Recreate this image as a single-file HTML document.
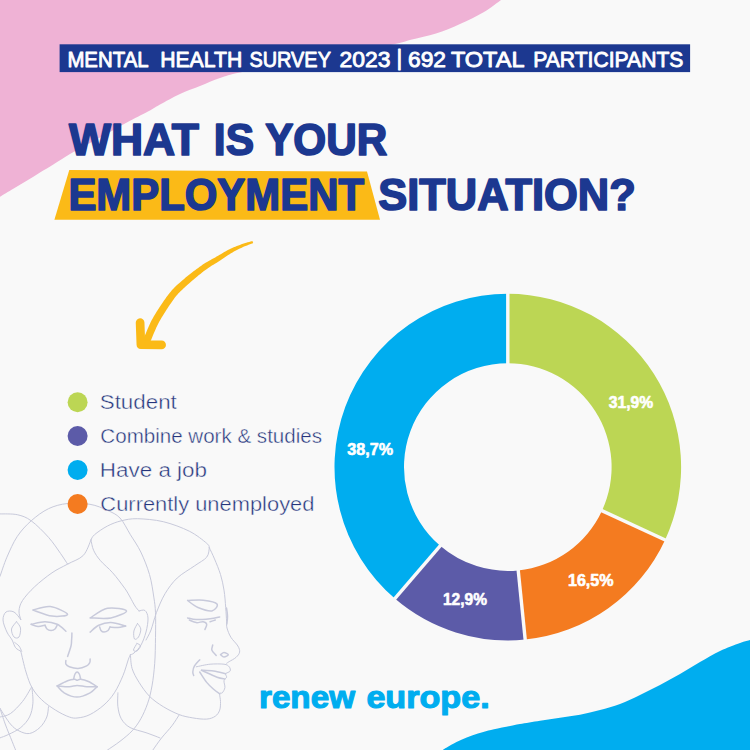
<!DOCTYPE html>
<html lang="en">
<head>
<meta charset="utf-8">
<title>Mental Health Survey 2023 - Employment situation</title>
<style>
  html, body { margin:0; padding:0; background:#f9f9f9; }
  body { width:750px; height:750px; overflow:hidden; font-family:"Liberation Sans", sans-serif; }
  svg { display:block; }
  text { font-family:"Liberation Sans", sans-serif; }
  .banner { font-size:22.6px; fill:#ffffff; stroke:#ffffff; stroke-width:0.9px; stroke-linejoin:round; }
  .title { font-size:44.6px; font-weight:bold; fill:#1c3890; stroke:#1c3890; stroke-width:1.7px; stroke-linejoin:round; }
  .legend { font-size:19.6px; fill:#25357c; stroke:#f9f9f9; stroke-width:0.4px; }
  .pct { font-size:16.3px; font-weight:bold; fill:#ffffff; stroke:#ffffff; stroke-width:0.6px; stroke-linejoin:round; }
  .logo { font-size:31px; font-weight:bold; fill:#00adef; stroke:#00adef; stroke-width:1.1px; stroke-linejoin:round; }
  .face { fill:none; stroke:#c8cadb; stroke-width:1; stroke-linecap:round; stroke-linejoin:round; }
</style>
</head>
<body>
<svg width="750" height="750" viewBox="0 0 750 750">
  <rect width="750" height="750" fill="#f9f9f9"/>
  <!-- background blobs -->
  <path d="M501.0,0.0 C498.2,2.0 490.8,8.0 484.0,12.0 C477.2,16.0 468.0,20.4 460.0,24.0 C452.0,27.6 444.0,31.0 436.0,33.6 C428.0,36.2 418.8,37.9 412.0,39.6 C405.2,41.3 406.2,41.8 395.0,44.0 C383.8,46.2 362.5,49.8 345.0,53.0 C327.5,56.2 307.5,59.8 290.0,63.0 C272.5,66.2 251.7,70.0 240.0,72.5 C228.3,75.0 226.7,75.8 220.0,78.0 C213.3,80.2 206.7,83.3 200.0,86.0 C193.3,88.7 186.7,90.9 180.0,94.0 C173.3,97.1 165.0,101.8 160.0,104.5 C155.0,107.2 155.0,107.7 150.0,110.4 C145.0,113.1 136.7,117.1 130.0,120.7 C123.3,124.3 116.7,128.3 110.0,132.0 C103.3,135.7 96.7,139.3 90.0,143.0 C83.3,146.7 76.1,150.4 70.0,154.0 C63.9,157.6 58.3,161.3 53.3,164.4 C48.3,167.5 44.4,169.7 40.0,172.4 C35.6,175.1 31.1,178.0 26.7,180.7 C22.2,183.4 17.8,186.0 13.3,188.7 C8.9,191.4 2.2,195.4 0.0,196.7 L0,0 Z" fill="#efb2d5"/>
  <path d="M442.8,750.0 C444.2,749.1 448.1,746.5 451.3,744.8 C454.5,743.0 458.4,741.1 462.0,739.5 C465.6,737.9 469.1,736.5 472.7,735.2 C476.2,734.0 479.8,733.0 483.3,732.0 C486.9,731.0 489.6,730.3 494.0,729.3 C498.4,728.3 505.7,726.9 510.0,726.0 C514.3,725.1 515.0,724.9 520.0,724.0 C525.0,723.1 533.3,721.8 540.0,720.7 C546.7,719.7 553.3,718.7 560.0,717.7 C566.7,716.7 573.3,716.0 580.0,714.7 C586.7,713.4 593.3,711.8 600.0,710.0 C606.7,708.2 613.3,706.5 620.0,704.0 C626.7,701.5 633.3,698.2 640.0,695.0 C646.7,691.8 653.3,688.5 660.0,685.0 C666.7,681.5 673.3,677.8 680.0,674.0 C686.7,670.2 693.3,665.8 700.0,662.0 C706.7,658.2 713.3,654.2 720.0,651.0 C726.7,647.8 735.0,644.8 740.0,643.0 C745.0,641.2 748.3,640.5 750.0,640.0 L750,750 Z" fill="#00adef"/>

  <!-- FACES -->
  <g class="face" id="faces">
    <path d="M0.0,513.9C2.9,514.0 12.1,513.6 17.3,514.7C22.5,515.9 26.0,517.0 31.2,520.8C36.4,524.6 43.6,531.8 48.5,537.3C53.4,542.8 57.5,549.2 60.7,553.7C63.9,558.2 66.4,562.4 67.6,564.1"/>
    <path d="M0.0,576.3C1.2,573.1 4.0,563.9 6.9,557.2C9.8,550.6 13.2,542.5 17.3,536.4C21.4,530.3 26.0,525.4 31.2,520.8C36.4,516.2 42.4,511.6 48.5,508.7C54.6,505.8 60.7,504.2 67.6,503.5C74.5,502.8 83.3,503.2 90.0,504.3C96.7,505.4 102.5,508.1 107.5,510.4C112.5,512.7 116.2,514.0 120.0,518.0C123.8,522.0 126.9,529.0 130.4,534.7C133.9,540.4 137.6,545.4 140.8,552.0C144.0,558.6 147.3,567.0 149.5,574.5C151.7,582.0 152.8,590.7 153.8,597.1C154.8,603.5 155.2,606.0 155.5,612.7C155.8,619.4 155.6,628.9 155.5,637.3C155.4,645.7 155.3,655.2 154.7,663.3C154.1,671.4 153.2,679.2 152.0,685.9C150.8,692.5 149.6,697.7 147.7,703.2C145.8,708.7 143.4,714.2 140.8,718.8C138.2,723.4 135.6,727.1 132.1,730.9C128.6,734.6 124.1,738.1 120.0,741.3C115.9,744.5 109.6,748.5 107.5,750.0"/>
    <path d="M91.0,539.9C89.7,542.5 87.1,551.5 83.2,555.5C79.3,559.5 72.8,561.2 67.6,564.1C62.4,567.0 57.5,569.0 52.0,572.8C46.5,576.6 39.6,582.1 34.7,586.7C29.8,591.3 25.1,596.5 22.5,600.5C19.9,604.5 19.3,607.7 19.0,610.9C18.7,614.1 20.5,618.1 20.8,619.6"/>
    <path d="M91.0,539.9C91.6,539.0 91.8,537.0 94.5,534.7C97.2,532.4 103.0,528.3 107.5,526.0C112.0,523.7 116.3,522.0 121.3,520.8C126.3,519.6 130.3,518.6 137.3,518.7C144.3,518.9 154.6,519.6 163.3,521.7C172.0,523.8 182.1,527.6 189.3,531.2C196.5,534.8 203.4,540.5 206.7,543.3C210.0,546.0 208.9,547.0 209.3,547.7"/>
    <path d="M91.0,539.9C91.4,541.6 92.0,546.8 93.6,550.3C95.2,553.8 97.3,557.0 100.5,560.7C103.7,564.5 108.7,568.2 112.7,572.8C116.8,577.4 121.9,584.4 124.8,588.4C127.7,592.4 128.3,594.1 130.0,597.0C131.7,599.9 133.5,603.7 135.0,606.0C136.5,608.3 138.3,610.2 139.0,611.0"/>
    <path d="M209.3,547.7C208.9,549.3 209.2,554.2 206.7,557.2C204.2,560.2 199.4,562.4 194.5,565.9C189.6,569.4 182.1,573.4 177.2,578.0C172.3,582.6 168.6,587.8 165.1,593.6C161.6,599.4 158.8,606.6 156.4,612.7C154.1,618.8 152.7,625.5 151.0,630.0C149.3,634.5 146.8,638.3 146.0,640.0"/>
    <path d="M209.3,547.7C210.2,549.6 212.6,554.4 214.5,558.9C216.4,563.4 218.9,569.3 220.5,574.5C222.1,579.7 223.1,584.6 224.0,590.1C224.9,595.6 225.3,602.3 225.7,607.5C226.1,612.7 226.4,617.9 226.6,621.3C226.8,624.7 226.3,625.3 227.0,628.0C227.7,630.7 229.1,634.3 230.9,637.3C232.7,640.3 236.5,643.5 237.9,646.0C239.3,648.5 239.9,650.2 239.6,652.1C239.3,654.0 237.8,655.7 236.1,657.3C234.4,658.9 230.8,660.6 229.2,661.6C227.6,662.6 227.0,663.0 226.6,663.3"/>
    <path d="M196.3,666.8C198.6,666.4 205.5,664.6 210.1,664.2C214.7,663.8 220.8,663.8 224.0,664.2C227.2,664.6 228.2,665.6 229.2,666.8C230.2,667.9 230.7,670.0 230.1,671.1C229.5,672.2 226.3,672.7 225.7,673.7C225.1,674.7 226.9,676.0 226.6,677.2C226.3,678.4 224.3,679.0 224.0,680.7C223.7,682.4 225.2,685.6 224.9,687.6C224.6,689.6 223.2,691.8 222.3,692.8C221.4,693.8 220.0,692.2 219.7,693.7C219.4,695.2 220.5,698.8 220.5,701.5C220.5,704.2 220.6,707.6 219.7,710.1C218.8,712.6 217.5,714.7 215.3,716.2C213.1,717.7 210.4,718.8 206.7,719.1C202.9,719.4 197.4,718.7 192.8,717.9C188.2,717.1 183.8,716.4 178.9,714.5C174.0,712.6 168.2,709.7 163.3,706.7C158.4,703.7 153.5,700.3 149.5,696.3C145.5,692.2 142.0,687.0 139.1,682.4C136.2,677.8 133.5,673.1 132.1,668.5C130.7,663.9 130.7,657.0 130.4,654.7"/>
    <path d="M201.5,670.3C203.5,670.4 209.6,670.5 213.6,671.1C217.6,671.7 223.7,673.3 225.7,673.7" stroke-width="1.5"/>
    <path d="M201.5,670.3C204.1,671.4 213.2,675.8 217.1,677.2C221.0,678.6 223.6,678.6 224.9,678.9" stroke-width="1.5"/>
    <path d="M199.7,672.0C200.9,673.7 204.4,679.5 206.7,682.4C209.0,685.3 211.4,687.4 213.6,689.3C215.8,691.2 218.7,693.0 219.7,693.7" stroke-width="1.5"/>
    <path d="M199.7,659.9C198.8,660.9 195.7,663.9 194.5,665.9C193.3,667.9 192.9,670.4 192.8,672.0C192.7,673.6 193.5,674.9 193.7,675.5" stroke-width="1.5"/>
    <path d="M220.5,654.7C221.1,654.4 222.7,652.6 224.0,652.6C225.3,652.6 228.3,654.0 228.3,654.7C228.3,655.4 225.3,657.0 224.0,657.0C222.7,657.0 221.1,655.1 220.5,654.7" stroke-width="1.5"/>
    <path d="M212.7,645.1C212.6,646.0 211.3,648.6 211.9,650.3C212.5,652.0 215.5,654.6 216.2,655.5" stroke-width="1.5"/>
    <path d="M178.9,715.3C177.8,717.0 174.9,721.9 172.0,725.7C169.1,729.5 164.8,733.9 161.6,737.9C158.4,741.9 154.3,748.0 152.9,750.0"/>
    <path d="M187.6,600.5C190.2,600.5 198.3,599.6 203.2,600.2C208.1,600.8 215.6,602.2 217.0,604.0C218.4,605.8 215.1,610.3 211.9,610.9C208.7,611.5 202.1,609.2 198.0,607.5C193.9,605.8 189.3,601.7 187.6,600.5" stroke-width="1.5"/>
    <path d="M187.6,617.9C189.1,618.2 192.6,619.5 196.3,619.6C200.1,619.7 206.2,619.1 210.1,618.7C214.0,618.3 218.1,617.3 219.7,617.0" stroke-width="1.5"/>
    <path d="M189.3,620.0C190.5,620.4 194.0,622.3 196.3,622.6C198.6,622.9 201.5,621.4 203.2,621.7C204.9,622.0 206.4,623.0 206.7,624.3C207.0,625.6 205.2,628.6 204.9,629.5" stroke-width="1.5"/>
    <path d="M210.1,621.7C211.0,621.4 214.4,620.3 215.3,620.0" stroke-width="1.5"/>
    <path d="M226.5,608.0C226.7,609.3 227.4,613.3 227.5,616.0C227.6,618.7 226.9,622.7 226.8,624.0" stroke-width="1.5"/>
    <path d="M20.8,651.2C21.7,654.7 24.1,665.9 26.0,672.0C27.9,678.1 29.4,683.0 32.0,687.6C34.6,692.2 37.7,696.0 41.6,699.7C45.5,703.5 50.9,707.2 55.5,710.1C60.1,713.0 65.5,715.7 69.3,717.0C73.0,718.3 74.5,718.3 78.0,717.9C81.5,717.5 85.8,716.7 90.1,714.5C94.4,712.3 100.0,708.5 104.0,704.9C108.0,701.3 111.2,697.7 114.4,692.8C117.6,687.9 120.7,681.0 123.0,675.5C125.3,670.0 127.0,663.4 128.2,659.9C129.4,656.4 130.0,655.6 130.4,654.7"/>
    <path d="M20.8,619.6C19.7,618.3 16.5,613.3 14.0,612.0C11.5,610.7 7.8,610.7 6.0,612.0C4.2,613.3 2.9,616.7 3.0,620.0C3.1,623.3 5.4,628.7 6.9,632.0C8.4,635.3 10.7,637.4 12.1,640.0C13.5,642.6 14.1,645.8 15.6,647.7C17.1,649.6 19.9,650.6 20.8,651.2"/>
    <path d="M16.5,621.7C17.2,622.8 20.1,625.5 20.5,628.0C20.9,630.5 20.1,635.5 19.0,637.0C17.9,638.5 15.2,638.3 14.0,637.0C12.8,635.7 11.1,631.5 11.5,629.0C11.9,626.5 15.7,622.9 16.5,621.7"/>
    <path d="M14.7,642.5C15.4,643.1 17.8,644.5 19.0,646.0C20.2,647.5 21.2,650.3 21.7,651.2"/>
    <path d="M139.0,611.0C140.0,610.9 143.5,609.3 145.0,610.5C146.5,611.7 147.8,614.4 148.0,618.0C148.2,621.6 147.2,627.5 146.0,632.0C144.8,636.5 143.0,641.5 141.0,645.0C139.0,648.5 135.8,651.4 134.0,653.0C132.2,654.6 131.0,654.4 130.4,654.7"/>
    <path d="M137.5,623.5C138.1,624.4 140.6,626.8 140.8,629.0C141.0,631.2 139.6,635.3 138.5,637.0C137.4,638.7 135.3,640.0 134.5,639.0C133.7,638.0 133.4,633.6 133.9,631.0C134.4,628.4 136.9,624.8 137.5,623.5"/>
    <path d="M137.0,643.4C137.6,643.8 140.5,644.7 140.5,646.0C140.5,647.3 138.2,650.3 137.0,651.0C135.8,651.7 133.5,651.3 133.5,650.0C133.5,648.7 136.4,644.5 137.0,643.4"/>
    <path d="M32.9,610.0C35.8,609.4 44.5,605.9 50.3,606.6C56.1,607.3 67.3,612.8 67.6,614.4C67.9,616.0 57.8,616.8 52.0,616.1C46.2,615.4 36.1,611.0 32.9,610.0" stroke-width="1.5"/>
    <path d="M90.1,617.9C93.0,616.3 101.4,609.5 107.5,608.3C113.6,607.1 125.9,609.3 126.5,610.9C127.1,612.5 117.0,616.7 110.9,617.9C104.8,619.1 93.6,617.9 90.1,617.9" stroke-width="1.5"/>
    <path d="M31.2,624.3C33.5,623.9 40.7,621.7 45.0,621.7C49.3,621.7 53.7,622.7 57.2,624.3C60.7,625.9 64.5,630.1 65.9,631.3" stroke-width="1.5"/>
    <path d="M31.2,624.3C32.3,624.7 35.7,626.4 38.0,626.5C40.3,626.6 43.8,625.4 45.0,625.2" stroke-width="1.5"/>
    <path d="M45.0,625.2C45.3,625.8 46.0,628.1 47.0,629.0C48.0,629.9 49.8,630.4 51.1,630.4C52.4,630.4 54.0,629.9 55.0,629.0C56.0,628.1 56.8,625.8 57.2,625.2" stroke-width="1.5"/>
    <path d="M90.1,632.1C91.5,631.0 95.3,626.8 98.8,625.2C102.3,623.6 106.4,622.5 110.9,622.6C115.4,622.7 123.1,625.4 125.6,626.0" stroke-width="1.5"/>
    <path d="M110.0,627.0C111.3,627.1 115.4,627.7 118.0,627.5C120.6,627.3 124.3,626.2 125.6,626.0" stroke-width="1.5"/>
    <path d="M99.7,627.0C99.9,627.6 100.3,629.6 101.0,630.5C101.7,631.4 102.8,632.1 104.0,632.1C105.2,632.1 107.0,631.4 108.0,630.5C109.0,629.6 109.7,627.6 110.0,627.0" stroke-width="1.5"/>
    <path d="M71.9,633.0C71.9,634.2 71.8,637.8 71.6,640.0C71.4,642.2 71.7,643.3 71.0,646.0C70.3,648.7 68.2,654.7 67.6,656.4" stroke-width="1.5"/>
    <path d="M65.9,660.5C65.9,661.1 65.3,663.2 65.9,664.2C66.5,665.2 67.3,666.1 69.3,666.8C71.3,667.5 75.1,668.6 78.0,668.5C80.9,668.4 84.7,666.9 86.7,665.9C88.7,664.9 89.2,663.6 89.8,662.5C90.4,661.4 90.0,659.6 90.1,659.0" stroke-width="1.5"/>
    <path d="M73.7,678.9C73.9,678.1 74.4,675.1 75.0,674.0C75.6,672.9 76.4,672.0 77.1,672.0C77.8,672.0 78.7,672.9 79.3,674.0C79.9,675.1 80.4,678.1 80.6,678.9" stroke-width="1.5"/>
    <path d="M57.2,685.9C58.9,685.0 64.7,681.8 67.6,680.7C70.5,679.6 72.9,679.4 74.5,679.3C76.1,679.2 76.1,680.3 77.1,680.3C78.1,680.3 78.7,679.1 80.6,679.3C82.5,679.5 85.7,680.3 88.4,681.5C91.2,682.7 95.6,685.8 97.1,686.7" stroke-width="1.5"/>
    <path d="M57.2,685.9C59.2,686.0 66.0,686.8 69.3,686.7C72.6,686.6 74.2,685.5 77.1,685.5C80.0,685.5 83.4,686.5 86.7,686.7C90.0,686.9 95.4,686.7 97.1,686.7" stroke-width="1.5"/>
    <path d="M57.2,685.9C58.4,687.0 60.8,690.9 64.1,692.8C67.4,694.7 72.8,697.1 77.1,697.1C81.4,697.1 86.8,694.5 90.1,692.8C93.4,691.1 95.9,687.7 97.1,686.7" stroke-width="1.5"/>
    <path d="M32.0,687.6C32.1,690.2 33.3,698.3 32.9,703.2C32.5,708.1 31.5,713.0 29.5,717.0C27.5,721.0 24.3,724.6 20.8,727.5C17.3,730.4 12.2,732.7 8.7,734.4C5.2,736.1 1.4,737.3 0.0,737.9"/>
    <path d="M48.5,706.7C48.2,708.4 48.2,713.5 46.8,717.0C45.4,720.5 42.8,724.8 39.9,727.5C37.0,730.2 33.0,732.9 29.5,733.5C26.0,734.1 22.2,732.5 19.0,730.9C15.8,729.3 13.6,727.8 10.4,724.0C7.2,720.2 1.7,711.0 0.0,708.4"/>
    <path d="M0.0,717.0C1.7,716.4 6.7,716.2 10.4,713.6C14.2,711.0 19.0,705.8 22.5,701.5C26.0,697.2 29.8,689.9 31.2,687.6"/>
    <path d="M0.0,708.4C0.9,711.0 3.2,718.5 5.2,724.0C7.2,729.5 10.4,737.0 12.1,741.3C13.8,745.6 15.0,748.5 15.6,750.0"/>
    <path d="M117.9,692.8C117.9,695.1 117.3,702.4 117.9,706.7C118.5,711.0 119.3,715.3 121.3,718.8C123.3,722.3 125.9,725.2 130.0,727.5C134.1,729.8 141.0,731.0 146.0,732.7C151.0,734.4 157.6,737.0 159.9,737.9"/>
  </g>

  <!-- banner -->
  <rect x="59.6" y="44.3" width="630.5" height="27.8" fill="#1c3890"/>
  <text class="banner" x="67.38" y="67.2" textLength="81.22" lengthAdjust="spacingAndGlyphs">MENTAL</text>
  <text class="banner" x="160.18" y="67.2" textLength="82.05" lengthAdjust="spacingAndGlyphs">HEALTH</text>
  <text class="banner" x="249.5" y="67.2" textLength="81.4" lengthAdjust="spacingAndGlyphs">SURVEY</text>
  <text class="banner" x="339.6" y="67.2" textLength="50.9" lengthAdjust="spacingAndGlyphs">2023</text>
  <text class="banner" x="396.6" y="65.1" style="font-size:21.8px">|</text>
  <text class="banner" x="407.98" y="67.2" textLength="38.06" lengthAdjust="spacingAndGlyphs">692</text>
  <text class="banner" x="450.9" y="67.2" textLength="73.6" lengthAdjust="spacingAndGlyphs">TOTAL</text>
  <text class="banner" x="533.19" y="67.2" textLength="150.21" lengthAdjust="spacingAndGlyphs">PARTICIPANTS</text>

  <!-- title -->
  <text class="title" x="68.99" y="154.5" textLength="130.03" lengthAdjust="spacingAndGlyphs">WHAT</text>
  <text class="title" x="213.83" y="154.5" textLength="40.2" lengthAdjust="spacingAndGlyphs">IS</text>
  <text class="title" x="265.2" y="154.5" textLength="122.01" lengthAdjust="spacingAndGlyphs">YOUR</text>
  <polygon points="69.3,170.1 367,171.6 380,219.7 54.4,219.7" fill="#fbba17"/>
  <text class="title" x="68.4" y="209.9" textLength="295.6" lengthAdjust="spacingAndGlyphs">EMPLOYMENT</text>
  <text class="title" x="378.2" y="209.9" textLength="257.61" lengthAdjust="spacingAndGlyphs">SITUATION?</text>

  <!-- arrow -->
  <path d="M252.4,241.0 L251.6,241.2 L250.5,241.5 L249.2,241.9 L247.7,242.3 L246.2,242.8 L244.5,243.3 L242.9,243.8 L241.4,244.3 L239.9,244.9 L238.4,245.4 L236.9,246.0 L235.3,246.7 L233.7,247.3 L232.1,248.0 L230.5,248.7 L229.0,249.5 L227.4,250.3 L225.8,251.2 L224.3,252.1 L222.7,253.0 L221.2,253.9 L219.7,254.8 L218.1,255.7 L216.6,256.6 L215.2,257.4 L213.7,258.2 L212.1,259.1 L210.6,259.9 L209.1,260.8 L207.5,261.7 L206.0,262.6 L204.4,263.6 L202.8,264.6 L201.3,265.7 L199.7,266.8 L198.2,267.9 L196.6,269.0 L195.1,270.2 L193.5,271.3 L192.0,272.5 L190.4,273.7 L188.8,275.0 L187.2,276.3 L185.6,277.6 L184.1,278.9 L182.5,280.2 L181.1,281.5 L179.7,282.7 L178.5,283.8 L177.3,284.8 L176.2,285.8 L175.2,286.8 L174.2,287.8 L173.1,288.9 L172.0,290.1 L170.9,291.4 L169.8,292.8 L168.6,294.2 L167.5,295.7 L166.3,297.3 L165.2,298.9 L164.0,300.5 L162.9,302.3 L161.7,304.0 L160.5,305.8 L159.2,307.8 L157.9,309.8 L156.6,311.8 L155.3,313.9 L154.0,316.1 L152.8,318.2 L151.6,320.3 L150.5,322.4 L149.5,324.7 L148.5,326.9 L147.6,329.1 L146.7,331.3 L145.9,333.2 L145.1,335.0 L144.5,336.6 L143.9,337.9 L143.4,339.1 L143.0,340.2 L142.6,341.1 L142.3,341.9 L142.0,342.6 L141.8,343.1 L141.6,343.6 L148.4,346.4 L148.6,345.9 L148.9,345.3 L149.1,344.7 L149.4,343.9 L149.8,343.0 L150.2,342.0 L150.7,340.8 L151.3,339.4 L152.0,337.8 L152.7,336.0 L153.5,334.1 L154.4,332.0 L155.3,329.9 L156.2,327.7 L157.2,325.7 L158.2,323.7 L159.2,321.8 L160.4,319.8 L161.5,317.7 L162.8,315.7 L164.0,313.7 L165.3,311.7 L166.5,309.8 L167.7,308.0 L168.8,306.2 L170.0,304.6 L171.1,302.9 L172.1,301.4 L173.2,299.9 L174.2,298.5 L175.3,297.1 L176.3,295.8 L177.3,294.7 L178.2,293.6 L179.1,292.7 L180.0,291.7 L181.0,290.8 L182.0,289.9 L183.1,288.8 L184.3,287.7 L185.6,286.5 L187.0,285.3 L188.4,284.0 L189.9,282.7 L191.5,281.3 L193.0,280.0 L194.5,278.7 L196.0,277.5 L197.5,276.3 L198.9,275.1 L200.4,273.9 L201.8,272.8 L203.3,271.6 L204.7,270.5 L206.2,269.4 L207.6,268.4 L209.0,267.4 L210.5,266.5 L211.9,265.6 L213.4,264.7 L214.9,263.8 L216.3,262.9 L217.8,262.0 L219.4,261.0 L220.9,260.0 L222.3,259.0 L223.8,258.0 L225.3,257.0 L226.7,256.0 L228.2,255.1 L229.6,254.2 L231.0,253.3 L232.5,252.5 L233.9,251.6 L235.4,250.8 L236.9,250.1 L238.3,249.3 L239.8,248.6 L241.2,247.9 L242.6,247.3 L244.0,246.6 L245.5,246.0 L247.1,245.4 L248.6,244.8 L250.0,244.3 L251.3,243.8 L252.3,243.4 L253.2,243.0Z" fill="#fbba17"/>
  <polyline points="140.1,322.6 140.9,344.7 161.6,344.9" fill="none" stroke="#fbba17" stroke-width="8.7" stroke-linecap="round" stroke-linejoin="round"/>

  <!-- legend -->
  <circle cx="77.6" cy="402.2" r="10" fill="#bcd654"/>
  <circle cx="77.6" cy="436" r="10" fill="#5c5ba8"/>
  <circle cx="77.6" cy="470" r="10" fill="#00adef"/>
  <circle cx="77.6" cy="504" r="10" fill="#f47b20"/>
  <text class="legend" x="99.76" y="408.6" textLength="77.05" lengthAdjust="spacingAndGlyphs">Student</text>
  <text class="legend" x="100.39" y="442.7" textLength="221.62" lengthAdjust="spacingAndGlyphs">Combine work &amp; studies</text>
  <text class="legend" x="99.84" y="476.7" textLength="107.2" lengthAdjust="spacingAndGlyphs">Have a job</text>
  <text class="legend" x="100.38" y="510.7" textLength="214.04" lengthAdjust="spacingAndGlyphs">Currently unemployed</text>

  <!-- donut chart -->
  <g id="donut">
        <path d="M507.80,293.80 A173.3,173.3 0 0 1 665.07,539.90 L602.00,510.70 A103.8,103.8 0 0 0 507.80,363.30 Z" fill="#bcd654"/>
    <path d="M665.07,539.90 A173.3,173.3 0 0 1 525.19,639.53 L518.22,570.38 A103.8,103.8 0 0 0 602.00,510.70 Z" fill="#f47b20"/>
    <path d="M525.19,639.53 A173.3,173.3 0 0 1 394.84,598.52 L440.14,545.82 A103.8,103.8 0 0 0 518.22,570.38 Z" fill="#5c5ba8"/>
    <path d="M394.84,598.52 A173.3,173.3 0 0 1 507.80,293.80 L507.80,363.30 A103.8,103.8 0 0 0 440.14,545.82 Z" fill="#00adef"/>
        <line x1="507.80" y1="365.30" x2="507.80" y2="291.80" stroke="#f9f9f9" stroke-width="3.4"/>
    <line x1="600.18" y1="509.86" x2="666.88" y2="540.74" stroke="#f9f9f9" stroke-width="3.4"/>
    <line x1="518.02" y1="568.39" x2="525.39" y2="641.51" stroke="#f9f9f9" stroke-width="3.4"/>
    <line x1="441.44" y1="544.30" x2="393.53" y2="600.04" stroke="#f9f9f9" stroke-width="3.4"/>
  </g>
  <text class="pct" x="347.3" y="454.5" textLength="45.8" lengthAdjust="spacingAndGlyphs">38,7%</text>
  <text class="pct" x="608.8" y="407.7" textLength="44.4" lengthAdjust="spacingAndGlyphs">31,9%</text>
  <text class="pct" x="567.98" y="585.6" textLength="45.61" lengthAdjust="spacingAndGlyphs">16,5%</text>
  <text class="pct" x="442.98" y="604.5" textLength="44.02" lengthAdjust="spacingAndGlyphs">12,9%</text>

  <!-- logo -->
  <text class="logo" x="258.98" y="707.8" textLength="96.01" lengthAdjust="spacingAndGlyphs">renew</text>
  <text class="logo" x="366.4" y="707.8" textLength="123.22" lengthAdjust="spacingAndGlyphs">europe.</text>
</svg>
</body>
</html>
